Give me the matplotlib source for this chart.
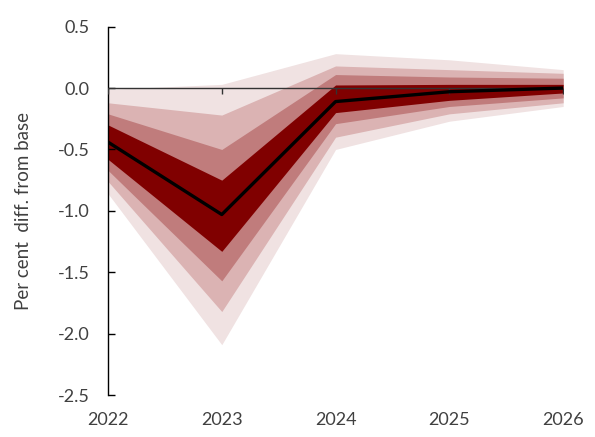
import matplotlib
matplotlib.use("Agg")
import matplotlib.pyplot as plt
import numpy as np

# Years and central projection
years = [2022, 2023, 2024, 2025, 2026]
central = [-0.44, -1.03, -0.11, -0.03, 0.0]

# Fan bands (upper, lower), from outermost to innermost
band_90_up = [-0.01, 0.03, 0.28, 0.23, 0.15]
band_90_lo = [-0.86, -2.09, -0.50, -0.27, -0.15]
band_70_up = [-0.12, -0.22, 0.18, 0.15, 0.12]
band_70_lo = [-0.76, -1.82, -0.40, -0.21, -0.12]
band_50_up = [-0.21, -0.50, 0.11, 0.09, 0.08]
band_50_lo = [-0.67, -1.57, -0.29, -0.15, -0.08]
band_30_up = [-0.30, -0.75, 0.025, 0.03, 0.03]
band_30_lo = [-0.58, -1.33, -0.20, -0.10, -0.04]

yticks = [0.5, 0.0, -0.5, -1.0, -1.5, -2.0, -2.5]

plt.rcParams['font.family'] = ['Lato', 'DejaVu Sans']

fig = plt.figure(figsize=(5.95, 4.37), dpi=100)
ax = fig.add_axes([0.1815, 0.096, 0.765, 0.843])

bands = [(band_90_up, band_90_lo, "#f0e2e2"),
         (band_70_up, band_70_lo, "#dbb3b3"),
         (band_50_up, band_50_lo, "#c07c7c"),
         (band_30_up, band_30_lo, "#800000")]
for up, lo, col in bands:
    ax.fill_between(years, lo, up, color=col, linewidth=0)

# zero line with small tick marks
ax.plot(years, np.zeros(len(years)), color="#333333", linewidth=1.0,
        marker=3, markersize=4, markeredgewidth=1.0, zorder=3)

ax.plot(years, central, color="black", linewidth=2.4, zorder=4)

ax.set_xlim(2022, 2026)
ax.set_ylim(-2.5, 0.5)
ax.set_yticks(yticks)
ax.set_yticklabels(["%.1f" % v for v in yticks])
ax.set_xticks(years)
ax.set_xticklabels([str(y) for y in years])

for s in ["top", "right", "bottom"]:
    ax.spines[s].set_visible(False)
ax.spines["left"].set_color("black")
ax.spines["left"].set_linewidth(1.0)

ax.tick_params(axis="y", direction="in", length=5, width=1.0, pad=13,
               labelsize=13, labelcolor="#404040")
ax.tick_params(axis="x", length=0, pad=12, labelsize=13, labelcolor="#404040")

ax.set_ylabel("Per cent  diff. from base", fontsize=13.5, color="#404040", labelpad=19)

fig.savefig("out.png", dpi=100)
